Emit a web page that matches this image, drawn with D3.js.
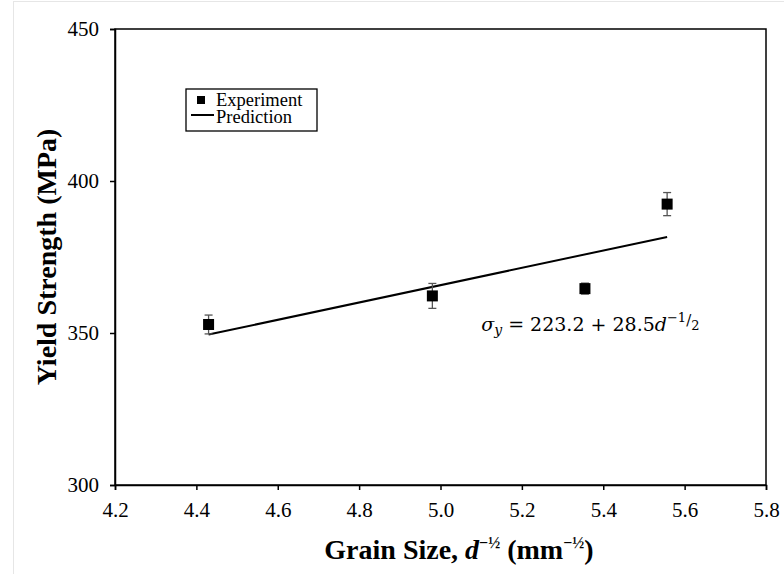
<!DOCTYPE html>
<html>
<head>
<meta charset="utf-8">
<script src="https://cdn.jsdelivr.net/npm/d3@7"></script>
<style>
body { margin: 0; background: #fff; }
</style>
</head>
<body>
<div id="chart"></div>
<script>
var svgWidth = 784;
var svgHeight = 574;
var serif = "'Liberation Serif', 'Times New Roman', Times, serif";

var margin = { top: 29, right: 18, bottom: 89, left: 115 };
var chartWidth = svgWidth - margin.left - margin.right;
var chartHeight = svgHeight - margin.top - margin.bottom;

// experiment points
var grainSize = [4.43, 4.98, 5.355, 5.557];
var strength = [352.8, 362.2, 364.6, 392.4];
var strengthErr = [3.1, 4.1, 1.8, 3.8];

// prediction line end points
var predX = [4.43, 5.557];
var predY = [349.5, 381.6];

var xTicks = [4.2, 4.4, 4.6, 4.8, 5.0, 5.2, 5.4, 5.6, 5.8];
var yTicks = [300, 350, 400, 450];

var svg = d3.select("#chart")
    .append("svg")
    .attr("width", svgWidth)
    .attr("height", svgHeight)
    .style("font-family", serif);

// faint page border
svg.append("rect")
    .attr("x", 13.5).attr("y", 1.5)
    .attr("width", svgWidth - 10).attr("height", svgHeight)
    .attr("fill", "none")
    .attr("stroke", "#e6e6e6");

var chartGroup = svg.append("g")
    .attr("transform", `translate(${margin.left}, ${margin.top})`);

var xScale = d3.scaleLinear().domain([4.2, 5.8]).range([0, chartWidth]);
var yScale = d3.scaleLinear().domain([300, 450]).range([chartHeight, 0]);

// frame
chartGroup.append("rect")
    .attr("width", chartWidth)
    .attr("height", chartHeight)
    .attr("fill", "none")
    .attr("stroke", "#000")
    .attr("stroke-width", 1.5);

var bottomAxis = d3.axisBottom(xScale)
    .tickValues(xTicks)
    .tickFormat(d3.format(".1f"))
    .tickSize(5)
    .tickPadding(12);
var leftAxis = d3.axisLeft(yScale)
    .tickValues(yTicks)
    .tickSize(5)
    .tickPadding(11);

var xAxisG = chartGroup.append("g")
    .attr("transform", `translate(0, ${chartHeight})`)
    .call(bottomAxis);
var yAxisG = chartGroup.append("g").call(leftAxis);

[xAxisG, yAxisG].forEach(function(g) {
    g.attr("font-family", null).attr("font-size", null);
    g.select(".domain").attr("stroke", "#000").attr("stroke-width", 1.5);
    g.selectAll(".tick line").attr("stroke", "#000").attr("stroke-width", 1.5);
    g.selectAll(".tick text")
        .style("font-family", serif)
        .style("font-size", "21px")
        .attr("fill", "#000");
});

// prediction line
chartGroup.append("path")
    .datum(d3.zip(predX, predY))
    .attr("d", d3.line().x(d => xScale(d[0])).y(d => yScale(d[1])))
    .attr("fill", "none")
    .attr("stroke", "#000")
    .attr("stroke-width", 2);

// error bars + markers
var pts = chartGroup.selectAll("g.pt")
    .data(d3.range(grainSize.length))
    .enter()
    .append("g")
    .attr("class", "pt");

pts.append("line")
    .attr("x1", i => xScale(grainSize[i]))
    .attr("x2", i => xScale(grainSize[i]))
    .attr("y1", i => yScale(strength[i] + strengthErr[i]))
    .attr("y2", i => yScale(strength[i] - strengthErr[i]))
    .attr("stroke", "#555")
    .attr("stroke-width", 1.3);
[1, -1].forEach(function(s) {
    pts.append("line")
        .attr("x1", i => xScale(grainSize[i]) - 4)
        .attr("x2", i => xScale(grainSize[i]) + 4)
        .attr("y1", i => yScale(strength[i] + s * strengthErr[i]))
        .attr("y2", i => yScale(strength[i] + s * strengthErr[i]))
        .attr("stroke", "#555")
        .attr("stroke-width", 1.3);
});
pts.append("rect")
    .attr("x", i => xScale(grainSize[i]) - 5.5)
    .attr("y", i => yScale(strength[i]) - 5.5)
    .attr("width", 11)
    .attr("height", 11)
    .attr("fill", "#000");

// legend
var legend = chartGroup.append("g")
    .attr("transform", "translate(71, 60)");
legend.append("rect")
    .attr("width", 131).attr("height", 42)
    .attr("fill", "#fff")
    .attr("stroke", "#000")
    .attr("stroke-width", 1.3);
legend.append("rect")
    .attr("x", 11).attr("y", 7).attr("width", 8).attr("height", 8)
    .attr("fill", "#000");
legend.append("line")
    .attr("x1", 5).attr("x2", 28).attr("y1", 26).attr("y2", 26)
    .attr("stroke", "#000").attr("stroke-width", 2);
legend.append("text").attr("x", 30).attr("y", 17)
    .style("font-size", "18.5px").text("Experiment");
legend.append("text").attr("x", 30).attr("y", 33.5)
    .style("font-size", "18.5px").text("Prediction");

// equation
var eq = chartGroup.append("text")
    .attr("x", xScale(5.1))
    .attr("y", yScale(350.8))
    .style("font-family", "'DejaVu Serif', serif")
    .style("font-size", "19px");
eq.append("tspan").attr("font-style", "italic").text("σ");
eq.append("tspan").attr("font-style", "italic").style("font-size", "14px").attr("dy", 4).text("y");
eq.append("tspan").attr("dy", -4).text(" = 223.2 + 28.5");
eq.append("tspan").attr("font-style", "italic").text("d");
eq.append("tspan").style("font-size", "13px").attr("dy", -9).text("−1");
eq.append("tspan").style("font-size", "15px").attr("dy", 3).text("/");
eq.append("tspan").style("font-size", "13px").attr("dy", 5).text("2");

// axis titles
var xt = svg.append("text")
    .attr("x", 459)
    .attr("y", 559)
    .attr("text-anchor", "middle")
    .attr("font-weight", "bold")
    .style("font-size", "28px");
xt.append("tspan").text("Grain Size, ");
xt.append("tspan").attr("font-style", "italic").text("d");
xt.append("tspan").style("font-size", "16px").attr("dy", -11).text("−½");
xt.append("tspan").attr("dy", 11).text(" (mm");
xt.append("tspan").style("font-size", "16px").attr("dy", -11).text("−½");
xt.append("tspan").attr("dy", 11).text(")");

svg.append("text")
    .attr("transform", `translate(56, ${margin.top + chartHeight / 2}) rotate(-90)`)
    .attr("text-anchor", "middle")
    .attr("font-weight", "bold")
    .style("font-size", "28px")
    .text("Yield Strength (MPa)");
</script>
</body>
</html>
